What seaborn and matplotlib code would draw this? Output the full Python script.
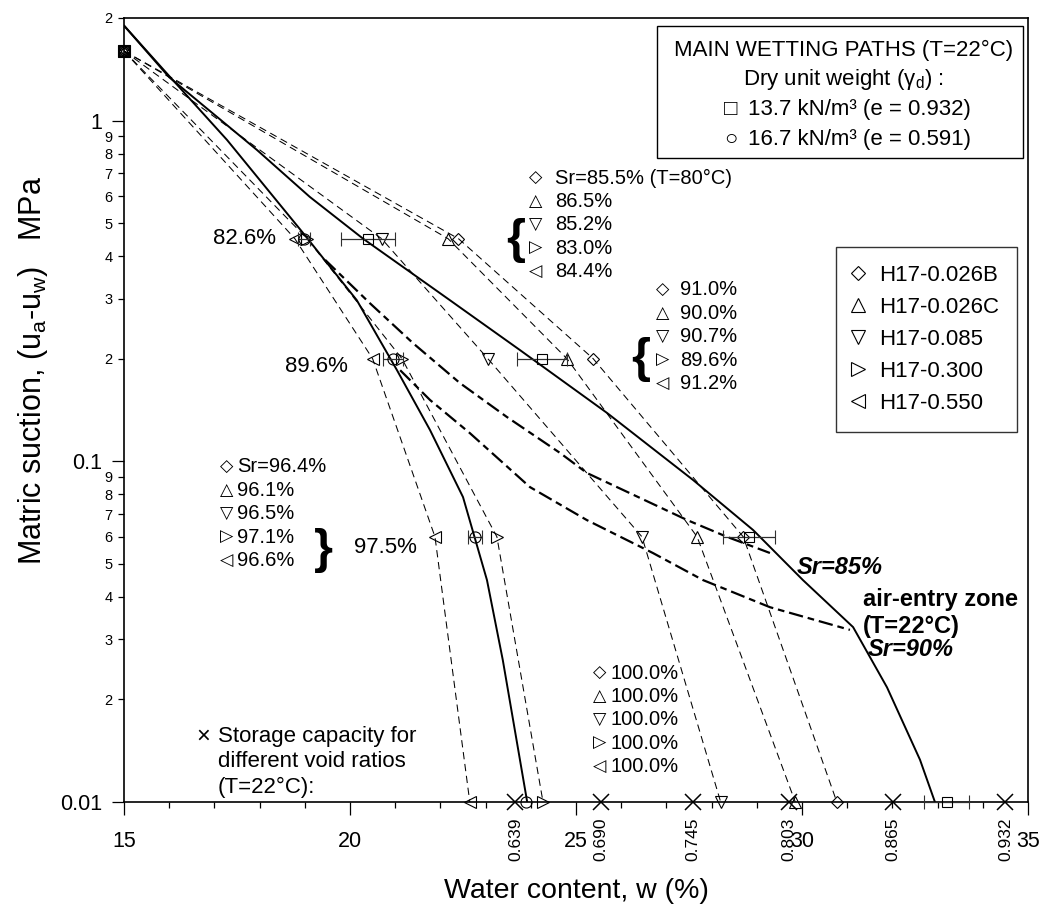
import numpy as np
import pandas as pd
import matplotlib
matplotlib.use("Agg")
import matplotlib.pyplot as plt
import seaborn as sns
from matplotlib.patches import Rectangle
from matplotlib.ticker import LogLocator, FuncFormatter, MultipleLocator

# suction steps of the wetting tests (MPa)
suction = [1.6, 0.45, 0.2, 0.06, 0.01]

# specimens at T=80C, water content (%) at each suction step
specimens = ["H17-0.026B", "H17-0.026C", "H17-0.085", "H17-0.300", "H17-0.550"]
spec_markers = ["D", "^", "v", ">", "<"]
w_026B = [15.0, 22.40, 25.38, 28.70, 30.77]
w_026C = [15.0, 22.17, 24.80, 27.68, 29.85]
w_085 = [15.0, 20.70, 23.05, 26.46, 28.20]
w_300 = [15.0, 19.05, 21.15, 23.25, 24.27]
w_550 = [15.0, 18.78, 20.50, 21.88, 22.65]

# degree of saturation of the specimens at 0.45 / 0.2 / 0.06 / 0.01 MPa
sr_045 = [85.5, 86.5, 85.2, 83.0, 84.4]
sr_02 = [91.0, 90.0, 90.7, 89.6, 91.2]
sr_006 = [96.4, 96.1, 96.5, 97.1, 96.6]
sr_001 = [100.0, 100.0, 100.0, 100.0, 100.0]
sr_main = [82.6, 89.6, 97.5]

# main wetting paths T=22C (mean and half range)
w_137 = [15.0, 20.40, 24.25, 28.83, 33.20]
err_137 = [0, 0.60, 0.55, 0.58, 0.50]
w_167 = [15.0, 18.98, 20.95, 22.77, 23.90]
err_167 = [0, 0.13, 0.23, 0.15, np.nan]

# fitted main wetting curves
fit137_w = [15.0, 16.0, 17.94, 19.11, 20.29, 22.21, 23.76, 25.69, 27.59, 28.92, 30.02, 31.13, 31.88, 32.61, 32.94]
fit137_s = [1.90, 1.34, 0.82, 0.597, 0.45, 0.297, 0.212, 0.1385, 0.0881, 0.0628, 0.0448, 0.0326, 0.0217, 0.0133, 0.01]
fit167_w = [15.0, 16.02, 17.28, 18.96, 20.15, 21.04, 21.77, 22.50, 23.03, 23.38, 23.92]
fit167_s = [1.90, 1.342, 0.877, 0.468, 0.297, 0.185, 0.1235, 0.0785, 0.0448, 0.0261, 0.01]

# air-entry zone limits
sr85_w = [19.45, 20.44, 21.39, 22.43, 23.47, 24.65, 25.24, 27.46, 28.34, 29.29]
sr85_s = [0.39, 0.291, 0.2224, 0.1697, 0.1349, 0.1057, 0.0924, 0.0672, 0.060, 0.0538]
sr90_w = [21.11, 21.77, 22.65, 23.98, 25.24, 26.70, 27.81, 29.29, 31.06]
sr90_s = [0.185, 0.1513, 0.121, 0.084, 0.0672, 0.0538, 0.0448, 0.0373, 0.032]

# storage capacity for different void ratios
void_ratios = [0.639, 0.690, 0.745, 0.803, 0.865, 0.932]
storage_w = [23.66, 25.55, 27.58, 29.72, 32.02, 34.50]

sns.set_theme(style="ticks", rc={"axes.edgecolor": "black", "xtick.color": "black",
                                 "ytick.color": "black", "text.color": "black",
                                 "axes.labelcolor": "black"})
plt.rcParams["font.family"] = ["Liberation Sans", "DejaVu Sans"]
plt.rcParams["mathtext.fontset"] = "custom"
plt.rcParams["mathtext.rm"] = "Liberation Sans"
plt.rcParams["mathtext.it"] = "Liberation Sans:italic"
plt.rcParams["mathtext.bf"] = "Liberation Sans:bold"

fig = plt.figure(figsize=(10.42, 9.13), dpi=100)
ax = fig.add_axes([0.119, 0.1216, 0.8676, 0.8587])
ax.set_yscale("log")

paths = pd.DataFrame({
    "specimen": np.repeat(specimens, len(suction)),
    "w": w_026B + w_026C + w_085 + w_300 + w_550,
    "s": suction * len(specimens),
})
sns.lineplot(data=paths, x="w", y="s", units="specimen", estimator=None, sort=False,
             color="black", lw=0.75, linestyle=(0, (7, 4.5)), legend=False, ax=ax)

fits = pd.DataFrame({
    "curve": ["13.7"] * len(fit137_w) + ["16.7"] * len(fit167_w),
    "w": fit137_w + fit167_w,
    "s": fit137_s + fit167_s,
})
sns.lineplot(data=fits, x="w", y="s", units="curve", estimator=None, sort=False,
             color="black", lw=1.4, legend=False, ax=ax)

air = pd.DataFrame({
    "curve": ["85"] * len(sr85_w) + ["90"] * len(sr90_w),
    "w": sr85_w + sr90_w,
    "s": sr85_s + sr90_s,
})
sns.lineplot(data=air, x="w", y="s", units="curve", estimator=None, sort=False,
             color="black", lw=1.6, linestyle=(0, (6.5, 2.2, 3.0, 2.2)), legend=False, ax=ax)

handles = []
for name, mk, ws in zip(specimens, spec_markers, [w_026B, w_026C, w_085, w_300, w_550]):
    ms = 6.3 if mk == "D" else 9
    h, = ax.plot(ws, suction, ls="none", marker=mk, ms=ms, mfc="none", mec="black",
                 mew=0.8, clip_on=False, zorder=4, label=name)
    handles.append(h)

for ws, err, mk, ms in [(w_137, err_137, "s", 7.2), (w_167, err_167, "o", 8)]:
    eb = ax.errorbar(ws[1:], suction[1:], xerr=err[1:], fmt=mk, ms=ms, mfc="none",
                     mec="black", mew=0.8, ecolor="#303030", elinewidth=0.9,
                     capsize=5, capthick=0.9, zorder=4)
    for art in [eb[0], *eb[1], *eb[2]]:
        art.set_clip_on(False)
    ax.plot(ws[:1], suction[:1], ls="none", marker=mk, ms=ms, mfc="none", mec="black",
            mew=0.8, clip_on=False, zorder=4)

ax.plot(storage_w, [suction[-1]] * len(storage_w), ls="none", marker="x", ms=11,
        mew=1.1, color="black", clip_on=False, zorder=5)
for w, e in zip(storage_w, void_ratios):
    ax.annotate(f"{e:.3f}", xy=(w, 0), xycoords=("data", "axes fraction"),
                xytext=(0, -11), textcoords="offset points", rotation=90,
                ha="center", va="top", fontsize=12.5)

ax.set_xlim(15, 35)
ax.set_ylim(0.01, 2)
ax.xaxis.set_major_locator(MultipleLocator(5))
ax.xaxis.set_minor_locator(MultipleLocator(1))
ax.yaxis.set_major_locator(LogLocator(base=10))
ax.yaxis.set_minor_locator(LogLocator(base=10, subs=np.arange(2, 10)))
ax.yaxis.set_major_formatter(FuncFormatter(lambda v, p: f"{v:g}"))
ax.yaxis.set_minor_formatter(FuncFormatter(lambda v, p: f"{v / 10 ** np.floor(np.log10(v)):.0f}"))
ax.tick_params(which="both", direction="out", width=0.9)
ax.tick_params(axis="x", which="major", length=9, labelsize=15.5, pad=12)
ax.tick_params(axis="x", which="minor", length=4.3)
ax.tick_params(axis="y", which="major", length=8.6, labelsize=15.5, pad=7)
ax.tick_params(axis="y", which="minor", length=4.3, labelsize=10.5, pad=4)
for sp in ax.spines.values():
    sp.set_linewidth(1.2)
    sp.set_color("black")

ax.set_xlabel("Water content, w (%)", fontsize=20.5)
ax.xaxis.set_label_coords(0.5, -0.097)
ax.set_ylabel("Matric suction, (u$_\\mathrm{a}$-u$_\\mathrm{w}$)   MPa", fontsize=22)
ax.yaxis.set_label_coords(-0.082, 0.551)


def put(fx, fy, s, size=14.5, **kw):
    kw.setdefault("va", "center")
    ax.text(fx, fy, s, transform=ax.transAxes, fontsize=size, **kw)


symbols = ["◇", "△", "▽", "▷", "◁"]


def group(fx_sym, fx_txt, fy0, labels):
    for i, (sym, lab) in enumerate(zip(symbols, labels)):
        fy = fy0 - 0.0299 * i
        put(fx_sym, fy, sym, size=12.5, ha="center", family="DejaVu Sans")
        put(fx_txt, fy, lab, size=14.5, ha="left")


group(0.4556, 0.4768, 0.7959, [f"Sr={sr_045[0]:.1f}% (T=80°C)"] + [f"{v:.1f}%" for v in sr_045[1:]])
group(0.5962, 0.6150, 0.6531, [f"{v:.1f}%" for v in sr_02])
group(0.1139, 0.1250, 0.4273, [f"Sr={sr_006[0]:.1f}%"] + [f"{v:.1f}%" for v in sr_006[1:]])
group(0.5265, 0.5376, 0.1645, [f"{v:.1f}%" for v in sr_001])

put(0.4335, 0.7168, "{", size=35, ha="center", fontweight="bold")
put(0.5710, 0.5638, "{", size=35, ha="center", fontweight="bold")
put(0.2201, 0.3214, "}", size=35, ha="center", fontweight="bold")
put(0.1681, 0.7181, f"{sr_main[0]:.1f}%", size=16, ha="right")
put(0.2478, 0.5561, f"{sr_main[1]:.1f}%", size=16, ha="right")
put(0.2544, 0.3240, f"{sr_main[2]:.1f}%", size=16, ha="left")

put(0.0874, 0.0829, "×", size=17, ha="center")
put(0.1040, 0.0829, "Storage capacity for", size=16)
put(0.1040, 0.0510, "different void ratios", size=16)
put(0.1040, 0.0191, "(T=22°C):", size=16)

put(0.7445, 0.2997, "Sr=85%", size=17, fontweight="bold", fontstyle="italic")
put(0.8175, 0.2577, "air-entry zone", size=17, fontweight="bold")
put(0.8175, 0.2232, "(T=22°C)", size=17, fontweight="bold")
put(0.8230, 0.1939, "Sr=90%", size=17, fontweight="bold", fontstyle="italic")

# main wetting paths box
ax.add_patch(Rectangle((0.5896, 0.8214), 0.4049, 0.1684, transform=ax.transAxes,
                       fill=False, ec="black", lw=1.0, clip_on=False, zorder=6))
put(0.7954, 0.9592, "MAIN WETTING PATHS (T=22°C)", size=16, ha="center")
put(0.7954, 0.9209, "Dry unit weight (γ$_\\mathrm{d}$) :", size=16, ha="center")
put(0.6715, 0.8827, "□", size=16, ha="center")
put(0.6903, 0.8827, "13.7 kN/m³ (e = 0.932)", size=16)
put(0.6715, 0.8444, "○", size=16, ha="center")
put(0.6903, 0.8444, "16.7 kN/m³ (e = 0.591)", size=16)

leg = ax.legend(handles=handles, labels=specimens, loc="upper right",
                bbox_to_anchor=(0.9878, 0.7079), frameon=True, fancybox=False,
                edgecolor="black", fontsize=16, handlelength=0.4, handletextpad=0.75,
                labelspacing=0.5, borderpad=0.8, borderaxespad=0, markerscale=1.15)
leg.get_frame().set_linewidth(1.0)

fig.savefig("out.png", dpi=100)
